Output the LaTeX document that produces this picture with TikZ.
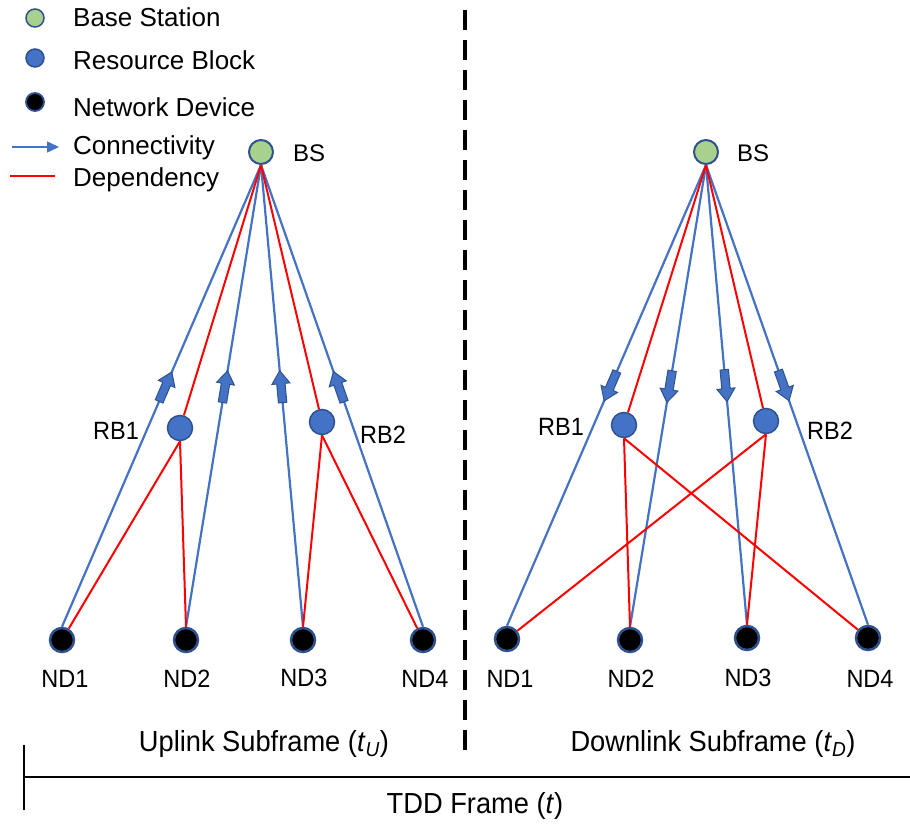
\documentclass[tikz,border=0pt]{standalone}
\usepackage{fontspec}
\setmainfont{Liberation Sans}
\newfontfamily\narrowsans[FakeStretch=0.94]{Liberation Sans}
\usetikzlibrary{decorations.markings,arrows.meta}

\definecolor{linkblue}{HTML}{4472C4}
\definecolor{rimblue}{HTML}{2F528F}
\definecolor{bsgreen}{HTML}{A9D18E}
\definecolor{depred}{HTML}{FF0000}

\tikzset{
  txt/.style={font=\narrowsans\fontsize{25}{30}\selectfont, inner sep=0pt, anchor=base},
  bstxt/.style={txt, font=\fontsize{24}{29}\selectfont, anchor=base west},
  legendtxt/.style={txt, font=\fontsize{26}{31}\selectfont, anchor=base west},
  frametxt/.style={txt, font=\narrowsans\fontsize{29}{35}\selectfont},
  bsnode/.style={circle, fill=bsgreen, draw=rimblue, line width=2pt, minimum size=24pt, inner sep=0pt},
  rbnode/.style={circle, fill=linkblue, draw=rimblue, line width=1.5pt, minimum size=25pt, inner sep=0pt},
  ndnode/.style={circle, fill=black, draw=rimblue, line width=2.5pt, minimum size=24pt, inner sep=0pt},
  conn/.style={draw=linkblue, line width=2.2pt},
  dep/.style={draw=depred, line width=2pt},
  blockarrow/.style={postaction={decorate}, decoration={markings,
      mark=at position #1 with {\filldraw[fill=linkblue, draw=rimblue, line width=1pt]
        (-16pt,-4.2pt) -- (3pt,-4.2pt) -- (3pt,-9pt) -- (16pt,0pt) -- (3pt,9pt)
        -- (3pt,4.2pt) -- (-16pt,4.2pt) -- cycle;}}},
}

\begin{document}
\begin{tikzpicture}[x=1pt, y=-1pt]
\useasboundingbox (0,0) rectangle (910,829);

% legend
\node[bsnode, minimum size=18pt, line width=1.5pt] (lgbs) at (35,18) {};
\node[rbnode, minimum size=18pt] (lgrb) at (35,58) {};
\node[ndnode, minimum size=18pt, line width=1.8pt] (lgnd) at (35,102) {};
\node[legendtxt] (lgbst) at (73,27) {Base Station};
\node[legendtxt] (lgrbt) at (73,70) {Resource Block};
\node[legendtxt] (lgndt) at (73,117) {Network Device};
\node[legendtxt] (lgcot) at (73,155) {Connectivity};
\node[legendtxt] (lgdet) at (73,187) {Dependency};
\coordinate (lgca) at (12,147);
\coordinate (lgcb) at (59,147);
\coordinate (lgda) at (10,176);
\coordinate (lgdb) at (55,176);
\draw[conn, line width=1.5pt, -{Triangle[length=12pt,width=11pt]}] (lgca) -- (lgcb);
\draw[dep, line width=1.3pt] (lgda) -- (lgdb);

% uplink subframe
\node[bsnode] (bsL) at (261,152) {};
\node[rbnode] (rbL1) at (180,428) {};
\node[rbnode] (rbL2) at (322,422) {};
\node[ndnode] (ndL1) at (62,640) {};
\node[ndnode] (ndL2) at (186,640) {};
\node[ndnode] (ndL3) at (303,640) {};
\node[ndnode] (ndL4) at (423,640) {};

\draw[conn, blockarrow=0.52] (ndL1.north) -- (bsL.south);
\draw[conn, blockarrow=0.52] (ndL2.north) -- (bsL.south);
\draw[conn, blockarrow=0.52] (ndL3.north) -- (bsL.south);
\draw[conn, blockarrow=0.52] (ndL4.north) -- (bsL.south);
\draw[dep] (bsL.south) -- (rbL1);
\draw[dep] (bsL.south) -- (rbL2);
\draw[dep] (rbL1.south) -- (ndL1);
\draw[dep] (rbL1.south) -- (ndL2.north);
\draw[dep] (rbL2.south) -- (ndL3.north);
\draw[dep] (rbL2.south) -- (ndL4);

\node[bstxt] (bsLt) at (293,162) {BS};
\node[txt] (rbL1t) at (116,439) {RB1};
\node[txt] (rbL2t) at (383,443) {RB2};
\node[txt] (ndL1t) at (65,687) {ND1};
\node[txt] (ndL2t) at (187,687) {ND2};
\node[txt] (ndL3t) at (304,686) {ND3};
\node[txt] (ndL4t) at (425,687) {ND4};
\node[frametxt] (upt) at (264,751) {Uplink Subframe (\textit{t}\textsubscript{\textit{U}})};

% downlink subframe
\node[bsnode] (bsR) at (706,152) {};
\node[rbnode] (rbR1) at (624,425) {};
\node[rbnode] (rbR2) at (766,421) {};
\node[ndnode] (ndR1) at (507,639) {};
\node[ndnode] (ndR2) at (630,640) {};
\node[ndnode] (ndR3) at (747,638) {};
\node[ndnode] (ndR4) at (868,638) {};

\draw[conn, blockarrow=0.48] (bsR.south) -- (ndR1.north);
\draw[conn, blockarrow=0.48] (bsR.south) -- (ndR2.north);
\draw[conn, blockarrow=0.48] (bsR.south) -- (ndR3.north);
\draw[conn, blockarrow=0.48] (bsR.south) -- (ndR4.north);
\draw[dep] (bsR.south) -- (rbR1);
\draw[dep] (bsR.south) -- (rbR2);
\draw[dep] (rbR1.south) -- (ndR2.north);
\draw[dep] (rbR1.south) -- (ndR4);
\draw[dep] (rbR2.south) -- (ndR1);
\draw[dep] (rbR2.south) -- (ndR3.north);

\node[bstxt] (bsRt) at (737,162) {BS};
\node[txt] (rbR1t) at (561,435) {RB1};
\node[txt] (rbR2t) at (830,439) {RB2};
\node[txt] (ndR1t) at (510,687) {ND1};
\node[txt] (ndR2t) at (631,687) {ND2};
\node[txt] (ndR3t) at (748,686) {ND3};
\node[txt] (ndR4t) at (870,687) {ND4};
\node[frametxt] (dnt) at (713,751) {Downlink Subframe (\textit{t}\textsubscript{\textit{D}})};

% subframe divider
\coordinate (divtop) at (465,10);
\coordinate (divbot) at (465,752);
\draw[line width=3.5pt, dash pattern=on 20pt off 10pt] (divtop) -- (divbot);

% TDD frame axis
\coordinate (axl) at (24,777);
\coordinate (axr) at (910,777);
\coordinate (ticktop) at (24,745);
\coordinate (tickbot) at (24,810);
\draw[line width=2pt] (axl) -- (axr);
\draw[line width=2pt] (ticktop) -- (tickbot);
\node[frametxt] (tddt) at (475,813) {TDD Frame (\textit{t})};
\end{tikzpicture}
\end{document}
